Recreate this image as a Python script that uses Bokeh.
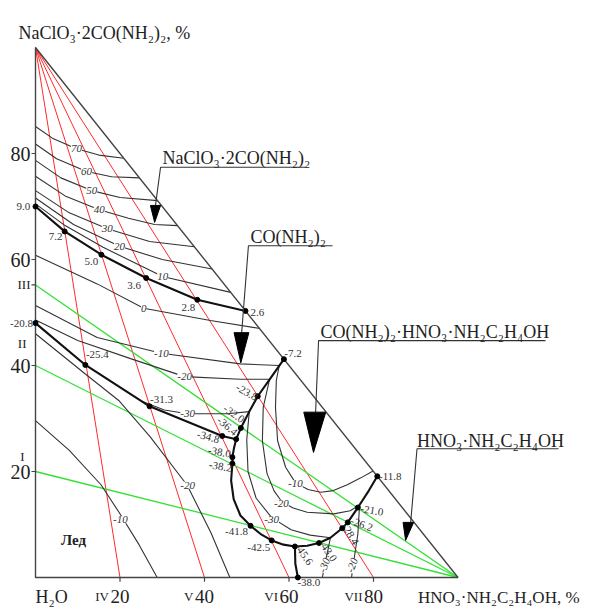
from bokeh.plotting import figure
from bokeh.core.properties import value
from bokeh.embed import file_html
from bokeh.resources import INLINE

# ---------------- data (composition %, temperatures in deg C) ----------------
# axes: x = HNO3·NH2C2H4OH %, y = NaClO3·2CO(NH2)2 %, H2O in origin
left_ticks = [20, 40, 60, 80]
left_tick_labels = ["20", "40", "60", "80"]
bottom_ticks = [20, 40, 60, 80]
bottom_tick_labels = ["20", "40", "60", "80"]
bottom_roman = ["IV", "V", "VI", "VII"]
left_roman_y = [20, 40, 55.2]
left_roman = ["I", "II", "III"]

# internal sections: red from NaClO3·2CO(NH2)2 vertex, green from HNO3·NH2C2H4OH vertex
red_section_x = [20, 40, 60, 80]
green_section_y = [20, 40, 55.2]

# isotherms (thin lines)
iso_p70_x = [0, 4, 9.7, 15, 20.9];          iso_p70_y = [85.1, 82.9, 80.9, 79.7, 79.1]
iso_p60_x = [0, 5, 12.1, 18, 24.6];         iso_p60_y = [81.8, 79.0, 76.6, 75.6, 75.4]
iso_p50_x = [0, 6, 13.3, 20, 28.9];         iso_p50_y = [78.7, 75.4, 73.0, 71.7, 71.1]
iso_p40_x = [0, 7, 15.1, 22, 28.2, 33.6];   iso_p40_y = [75.7, 72.0, 69.4, 67.8, 66.6, 66.4]
iso_p30_x = [0, 8, 17.0, 27, 37.6];         iso_p30_y = [73.0, 68.8, 65.8, 63.4, 62.4]
iso_p20_x = [0, 9, 19.9, 30, 41.8];         iso_p20_y = [71.6, 66.6, 62.5, 60.0, 58.2]
iso_p10_x = [0, 7, 16, 30.1, 46.2];         iso_p10_y = [70.5, 66.4, 62.3, 56.8, 53.8]
iso_0_x = [0, 14.6, 25.6, 41.4, 53.0];      iso_0_y = [60.8, 55.4, 50.8, 48.5, 47.0]
iso_m10u_x = [0, 14.6, 29.8, 48.5, 57.7];   iso_m10u_y = [51.3, 45.3, 42.3, 40.3, 40.0]
iso_m20u_x = [0, 10, 22.5, 35.3, 48.5, 55.4]; iso_m20u_y = [48.6, 44.7, 41.3, 37.9, 37.4, 37.4]
iso_m30u_x = [25.0, 30.5, 36.0, 45.4, 50.6]; iso_m30u_y = [33.3, 31.6, 30.9, 30.9, 31.3]
iso_m10i_x = [0, 8, 15.5, 20.1, 24.5, 28.8]; iso_m10i_y = [29.6, 24.0, 17.5, 11.9, 6.2, 0]
iso_m20i_x = [0, 11.8, 19.7, 27.2, 35.9, 41.5, 46.0]; iso_m20i_y = [46.0, 38.4, 33.4, 26.5, 17.4, 8.5, 0]
iso_m10c_x = [57.7, 57.0, 56.8, 57.3, 59.2, 61.5, 64.5, 67.5, 70.5, 73.8, 77.0, 79.9]
iso_m10c_y = [40.0, 37.2, 32.1, 25.8, 20.8, 17.9, 16.6, 16.1, 16.4, 17.5, 18.8, 20.1]
iso_m20c_x = [55.4, 53.9, 53.7, 54.8, 56.5, 58.4, 61.0, 64.3, 70.6, 74.5, 76.7]
iso_m20c_y = [37.4, 32.1, 25.8, 19.6, 16.3, 14.2, 13.1, 12.3, 12.0, 12.6, 13.7]
iso_m30c_x = [50.6, 50.0, 50.3, 52.2, 55.9, 60.5, 65.0, 69.8]
iso_m30c_y = [31.3, 26.0, 20.0, 15.0, 11.3, 9.0, 8.0, 7.5]
iso_m30h_x = [67.9, 68.6, 69.3, 69.8];      iso_m30h_y = [0, 3.0, 5.5, 7.5]
iso_m20h_x = [74.8, 75.7, 76.3, 76.7];      iso_m20h_y = [0, 5.1, 8.2, 13.7]

# crystallisation field boundaries (bold lines)
b_top_x = [0, 6.9, 15.6, 26.2, 38.3, 49.7];   b_top_y = [70.0, 65.3, 60.9, 56.5, 52.4, 50.3]
b_ice_u_x = [0, 11.8, 27.0, 44.2, 47.5];      b_ice_u_y = [48.0, 40.1, 32.3, 26.7, 26.1]
b_u_c_x = [58.8, 55.8, 52.6, 50.6, 48.6, 47.5]; b_u_c_y = [41.2, 37.8, 34.2, 31.3, 28.2, 26.1]
b_ice_c_x = [47.5, 47.0, 46.6, 46.6, 46.3, 46.9, 48.5, 50.9, 53.3, 55.9, 58.7, 61.4]
b_ice_c_y = [26.1, 24.5, 22.7, 21.5, 18.3, 14.8, 11.7, 9.75, 8.2, 7.0, 6.2, 5.85]
b_c_h_x = [61.4, 64.3, 67.1, 69.8, 72.6, 73.9, 76.3, 78.9, 80.9]
b_c_h_y = [5.85, 6.0, 6.5, 7.5, 9.3, 10.4, 13.2, 16.4, 19.1]
b_ice_h_x = [61.4, 61.5, 62.1];              b_ice_h_y = [5.85, 2.6, 0]

# marked points with their temperatures
pt_x = [0, 6.9, 15.6, 26.2, 38.3, 49.7, 0, 11.8, 27.0, 44.2, 47.5, 48.6, 52.6, 58.8,
        46.6, 46.6, 50.9, 55.9, 61.4, 67.1, 72.6, 73.9, 76.3, 80.9, 62.1]
pt_y = [70.0, 65.3, 60.9, 56.5, 52.4, 50.3, 48.0, 40.1, 32.3, 26.7, 26.1, 28.2, 34.2, 41.2,
        22.7, 21.5, 9.75, 7.0, 5.85, 6.5, 9.3, 10.4, 13.2, 19.1, 0]
pt_t = ["9.0", "7.2", "5.0", "3.6", "2.8", "2.6", "-20.8", "-25.4", "-31.3", "-34.8", "-36.4",
        "-32.0", "-23.8", "-7.2", "-38.0", "-38.2", "-41.8", "-42.5", "-45.6", "-43.0", "-28.4",
        "-26.2", "-21.0", "-11.8", "-38.0"]

# isotherm labels
iso_lab_x = [9.7, 12.1, 13.3, 15.1, 17.0, 19.9, 30.1, 25.6, 29.8, 35.3, 36.0, 20.1, 36.0, 61.5, 58.2, 55.9]
iso_lab_y = [80.9, 76.6, 73.0, 69.4, 65.8, 62.5, 56.8, 50.8, 42.3, 37.9, 30.9, 10.9, 17.4, 17.7, 14.0, 10.9]
iso_lab_t = ["70", "60", "50", "40", "30", "20", "10", "0", "-10", "-20", "-30", "-10", "-20", "-10", "-20", "-30"]
iso_lab2_x = [68.4, 75.0]
iso_lab2_y = [2.3, 2.3]
iso_lab2_t = ["-30", "-20"]

# ---------------- layout / style ----------------
pt_dx = [-12, -9, -10, -12, -9, 12, -14, 12, 12, -14, -9, -7, -11, 9,
         -13, -12, -14, -13, 9, 9, 8, 14, 14, 13, 11]
pt_dy = [0, 5, 7, 7, 8, 2, 0, -10, -7, 1, -13, -14, -4, -6,
         -5, 3, 6, 7, 8, 8, 6, 2, 3, 0, 5]
pt_ang = [0, 0, 0, 0, 0, 0, 0, 0, 0, -15, -40, -35, -30, 0,
          -10, -10, 0, 0, -55, -55, -60, -20, -10, 0, 0]

SERIF = value("Liberation Serif")
INK = "#222222"

p = figure(width=593, height=610, x_range=(-8.284, 132.071), y_range=(-6.226, 108.868),
           output_backend="svg", toolbar_location=None, min_border=0,
           x_axis_type=None, y_axis_type=None)
p.outline_line_color = None
p.background_fill_color = "white"
p.border_fill_color = "white"

# section lines
for xv in red_section_x:
    p.line([0, xv], [100, 0], line_color="#ff2a2a", line_width=1.0)
for yv in green_section_y:
    p.line([100, 0], [0, yv], line_color="#33e033", line_width=1.3)

# isotherms
iso_lines = [(iso_p70_x, iso_p70_y), (iso_p60_x, iso_p60_y), (iso_p50_x, iso_p50_y),
             (iso_p40_x, iso_p40_y), (iso_p30_x, iso_p30_y), (iso_p20_x, iso_p20_y),
             (iso_p10_x, iso_p10_y), (iso_0_x, iso_0_y), (iso_m10u_x, iso_m10u_y),
             (iso_m20u_x, iso_m20u_y), (iso_m30u_x, iso_m30u_y), (iso_m10i_x, iso_m10i_y),
             (iso_m20i_x, iso_m20i_y), (iso_m10c_x, iso_m10c_y), (iso_m20c_x, iso_m20c_y),
             (iso_m30c_x, iso_m30c_y), (iso_m30h_x, iso_m30h_y), (iso_m20h_x, iso_m20h_y)]
for xs, ys in iso_lines:
    p.line(xs, ys, line_color="#333333", line_width=1.1)

# triangle frame and ticks
tick_y = left_ticks + [55.2]
p.line([0, 0, 100, 0], [100, 0, 0, 100], line_color="#444444", line_width=1.4)
p.segment(x0=[-0.95] * len(tick_y), y0=tick_y, x1=[0] * len(tick_y), y1=tick_y,
          line_color="#444444", line_width=1.2)
p.segment(x0=bottom_ticks, y0=[0] * 4, x1=bottom_ticks, y1=[-0.8] * 4,
          line_color="#444444", line_width=1.2)

# bold boundaries
for xs, ys in [(b_top_x, b_top_y), (b_ice_u_x, b_ice_u_y), (b_u_c_x, b_u_c_y),
               (b_ice_c_x, b_ice_c_y), (b_c_h_x, b_c_h_y), (b_ice_h_x, b_ice_h_y)]:
    p.line(xs, ys, line_color="#111111", line_width=2.1)

p.scatter(pt_x, pt_y, marker="circle", size=5, color="black")

# leaders with arrow heads for field names
leaders = [([63.9, 29.6, 28.4], [77.4, 77.4, 70.2]),
           ([70.3, 50.4, 48.8], [62.6, 62.6, 46.2]),
           ([120.7, 67.0, 66.3], [44.7, 44.7, 31.2]),
           ([123.8, 90.3, 88.8], [24.3, 24.3, 10.4])]
heads_x = [[27.2, 29.6, 28.2], [47.0, 50.5, 48.6], [63.5, 68.7, 65.8], [87.0, 89.5, 87.6]]
heads_y = [[70.2, 70.2, 67.0], [46.2, 46.2, 40.5], [31.2, 31.2, 23.6], [10.4, 10.4, 7.0]]
for xs, ys in leaders:
    p.line(xs, ys, line_color="#333333", line_width=1.1)
p.patches(heads_x, heads_y, fill_color="black", line_color="black")

field_names = ["NaClO₃·2CO(NH₂)₂", "CO(NH₂)₂", "CO(NH₂)₂·HNO₃·NH₂C₂H₄OH", "HNO₃·NH₂C₂H₄OH"]
p.text(x=[29.6, 50.4, 67.0, 90.3], y=[77.4, 62.6, 44.7, 24.3], text=field_names,
       x_offset=[2, 2, 2, 0], y_offset=[-9, -9, -9, -8],
       text_font=SERIF, text_font_size="18px", text_color=INK,
       text_align="left", text_baseline="alphabetic")

# isotherm labels
p.text(x=iso_lab_x, y=iso_lab_y, text=iso_lab_t, text_font=SERIF, text_font_style="italic",
       text_font_size="11px", text_color="#333333", text_align="center", text_baseline="middle",
       background_fill_color="white")
p.text(x=iso_lab2_x, y=iso_lab2_y, text=iso_lab2_t, text_font=SERIF, text_font_style="italic",
       text_font_size="11px", text_color="#333333", text_align="center", text_baseline="middle",
       angle=[1.2, 1.2], background_fill_color="white")

# point labels
p.text(x=pt_x, y=pt_y, text=pt_t, x_offset=pt_dx, y_offset=pt_dy,
       angle=[a * 3.14159 / 180 for a in pt_ang],
       text_font=SERIF, text_font_size="11px", text_color="#333333",
       text_align="center", text_baseline="middle")

# left axis labels
p.text(x=[0] * 4, y=left_ticks, text=left_tick_labels, x_offset=-5, text_font=SERIF,
       text_font_size="20px", text_color=INK, text_align="right", text_baseline="middle")
p.text(x=[0] * 3, y=left_roman_y, text=left_roman, x_offset=[-11, -9, -5], y_offset=[-15, -22, 0],
       text_font=SERIF, text_font_size="13px", text_color=INK, text_align="right",
       text_baseline="middle")

# bottom axis labels (kept above the lower edge of the visible window)
p.text(x=bottom_ticks, y=[0] * 4, text=bottom_tick_labels, y_offset=19, text_font=SERIF,
       text_font_size="19px", text_color=INK, text_align="center", text_baseline="alphabetic")
p.text(x=bottom_ticks, y=[0] * 4, text=bottom_roman, x_offset=-11, y_offset=19, text_font=SERIF,
       text_font_size="13px", text_color=INK, text_align="right", text_baseline="alphabetic")

# vertex labels
p.text(x=[0], y=[0], text=["H₂O"], y_offset=19, text_font=SERIF, text_font_size="18px",
       text_color=INK, text_align="left", text_baseline="alphabetic")
p.text(x=[100], y=[0], text=["HNO₃·NH₂C₂H₄OH, %"], x_offset=-40, y_offset=20, text_font=SERIF,
       text_font_size="17px", text_color=INK, text_align="left", text_baseline="alphabetic")
p.text(x=[0], y=[100], text=["NaClO₃·2CO(NH₂)₂, %"], x_offset=-17, y_offset=-15, text_font=SERIF,
       text_font_size="18px", text_color=INK, text_align="left", text_baseline="alphabetic")

# ice field
p.text(x=[9.0], y=[7.0], text=["Лед"], text_font=SERIF, text_font_style="bold",
       text_font_size="15px", text_color=INK, text_align="center", text_baseline="middle")

open("out.html", "w").write(file_html(p, INLINE))
